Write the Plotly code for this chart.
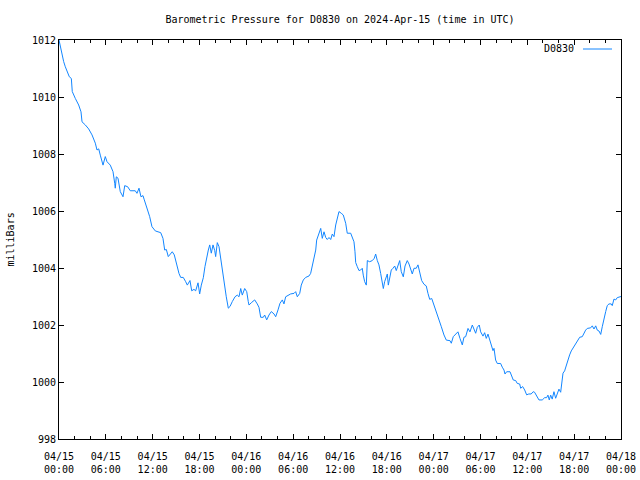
from datetime import datetime, timedelta
import plotly.graph_objects as go

# Hours since 2024-04-15 00:00 UTC
hours = [
    0.00, 0.17, 0.38, 0.60, 0.81, 1.02, 1.32, 1.58, 1.70, 2.09, 2.52, 2.82, 2.95, 3.37, 3.80,
    4.23, 4.65, 4.87, 5.09, 5.29, 5.64, 5.93, 6.15, 6.57, 6.92, 7.14, 7.21, 7.34, 7.56, 7.85,
    8.20, 8.42, 8.80, 9.13, 9.77, 9.99, 10.25, 10.50, 10.76, 10.93, 11.27, 11.62, 11.91, 12.34,
    13.03, 13.32, 13.54, 13.75, 14.00, 14.31, 14.51, 14.77, 15.03, 15.37, 15.59, 15.92, 16.23,
    16.44, 16.78, 17.00, 17.29, 17.51, 17.81, 18.02, 18.23, 18.49, 18.70, 18.87, 19.13, 19.31,
    19.51, 19.73, 19.95, 20.07, 20.28, 20.50, 20.71, 20.92, 21.14, 21.43, 21.69, 21.91, 22.20,
    22.55, 22.84, 23.06, 23.28, 23.48, 23.79, 24.05, 24.25, 24.34, 24.63, 25.07, 25.40, 25.62,
    25.84, 26.17, 26.35, 26.61, 26.90, 27.20, 27.54, 27.76, 28.06, 28.31, 28.61, 28.82, 29.04,
    29.25, 29.68, 30.11, 30.32, 30.53, 30.84, 31.04, 31.30, 31.60, 32.03, 32.24, 32.45, 32.67,
    32.89, 33.01, 33.31, 33.53, 33.73, 33.95, 34.17, 34.37, 34.59, 34.81, 35.01, 35.23, 35.45,
    35.65, 35.87, 36.16, 36.42, 36.73, 36.93, 37.37, 37.57, 37.79, 37.92, 38.01, 38.21, 38.43,
    38.65, 38.85, 38.98, 39.16, 39.37, 39.50, 39.80, 40.14, 40.39, 40.57, 40.78, 40.99, 41.21,
    41.42, 41.55, 41.72, 41.93, 42.06, 42.19, 42.36, 42.57, 42.79, 43.01, 43.21, 43.43, 43.65,
    43.85, 44.11, 44.33, 44.62, 44.84, 45.06, 45.26, 45.48, 45.77, 45.99, 46.21, 46.46, 46.76,
    47.05, 47.27, 47.49, 47.75, 47.95, 48.26, 48.46, 48.68, 48.98, 49.32, 49.62, 50.09, 50.26,
    50.51, 50.82, 51.11, 51.37, 51.67, 51.88, 52.10, 52.40, 52.65, 52.95, 53.16, 53.38, 53.59,
    53.84, 54.02, 54.32, 54.53, 54.74, 54.96, 55.18, 55.38, 55.60, 55.73, 55.94, 56.15, 56.58,
    56.79, 57.01, 57.14, 57.35, 57.78, 57.99, 58.20, 58.51, 58.71, 59.02, 59.15, 59.40, 59.66,
    59.91, 60.19, 60.49, 60.75, 60.93, 61.18, 61.49, 61.91, 62.22, 62.47, 62.64, 62.81, 62.99,
    63.19, 63.41, 63.63, 63.84, 64.05, 64.27, 64.40, 64.57, 64.78, 64.99, 65.21, 65.42, 65.63,
    65.85, 66.06, 66.27, 66.49, 66.71, 67.04, 67.26, 67.47, 67.68, 68.11, 68.32, 68.54, 68.76,
    68.96, 69.18, 69.40, 69.60, 69.82, 70.04, 70.24, 70.46, 70.75, 70.88, 71.10, 71.32, 71.52,
    71.87, 72.00,
]

pressure_mb = [
    1012.00, 1011.77, 1011.47, 1011.24, 1011.06, 1010.89, 1010.71, 1010.65, 1010.19, 1009.95,
    1009.72, 1009.48, 1009.13, 1009.02, 1008.88, 1008.67, 1008.38, 1008.14, 1008.18, 1007.96,
    1007.61, 1007.91, 1007.73, 1007.61, 1007.38, 1006.97, 1006.80, 1007.20, 1007.15, 1006.68,
    1006.50, 1006.89, 1006.85, 1006.71, 1006.71, 1006.62, 1006.80, 1006.50, 1006.54, 1006.39,
    1006.09, 1005.80, 1005.45, 1005.30,
    1005.24, 1005.04, 1004.63, 1004.65, 1004.40, 1004.49, 1004.57, 1004.46, 1004.16, 1003.81,
    1003.67, 1003.67, 1003.52, 1003.40, 1003.56, 1003.20, 1003.25, 1003.20, 1003.48, 1003.09,
    1003.40, 1003.66, 1004.05, 1004.34, 1004.63, 1004.81, 1004.52, 1004.81, 1004.61, 1004.40,
    1004.89, 1004.75, 1004.34, 1003.81, 1003.46, 1002.99, 1002.59, 1002.65, 1002.82, 1002.99,
    1003.05, 1002.99, 1003.28, 1003.05, 1003.28, 1003.17, 1002.82, 1002.70, 1002.78, 1002.88,
    1002.74, 1002.62, 1002.27, 1002.27, 1002.35, 1002.18, 1002.35, 1002.47, 1002.39, 1002.29,
    1002.53, 1002.76, 1002.88, 1002.74, 1002.99, 1003.02, 1003.09, 1003.11, 1003.17, 1002.99,
    1003.11, 1003.40, 1003.58, 1003.67, 1003.72, 1003.81, 1004.05, 1004.34, 1004.63, 1004.98,
    1005.22, 1005.39, 1005.04, 1005.27, 1005.07, 1005.00, 1005.07, 1005.00, 1005.19, 1005.10,
    1005.51, 1005.71, 1005.98, 1005.92, 1005.86, 1005.57, 1005.22, 1005.22, 1005.10, 1004.92,
    1004.57, 1004.19, 1004.05, 1003.91, 1003.93, 1003.99, 1003.75, 1003.52, 1003.40, 1004.26,
    1004.22, 1004.26, 1004.34, 1004.49, 1004.26, 1004.11, 1003.81, 1003.46, 1003.28, 1003.52,
    1003.69, 1003.79, 1003.40, 1003.60, 1003.93, 1003.99, 1004.07, 1003.91, 1004.07, 1004.26,
    1003.87, 1003.69, 1004.07, 1004.26, 1004.14, 1003.93, 1003.79, 1003.99, 1003.99, 1004.11,
    1003.81, 1003.56, 1003.43, 1003.37, 1003.11, 1002.90, 1002.93, 1002.78, 1002.55, 1002.39,
    1002.18, 1001.94, 1001.65, 1001.47, 1001.45, 1001.36, 1001.59, 1001.68, 1001.76, 1001.53,
    1001.30, 1001.57, 1001.59, 1001.88, 1001.76, 1002.00, 1001.88, 1001.71, 1001.92, 1002.00,
    1001.76, 1001.61, 1001.73, 1001.53, 1001.68, 1001.47, 1001.30, 1001.10, 1001.18, 1000.77,
    1000.65, 1000.65, 1000.52, 1000.42, 1000.28, 1000.36, 1000.36, 1000.19, 1000.07, 1000.05,
    999.95, 999.93, 999.78, 999.84, 999.72, 999.55, 999.58, 999.58, 999.66, 999.64, 999.52,
    999.37, 999.37, 999.45, 999.45, 999.54, 999.37, 999.54, 999.40, 999.66, 999.43, 999.60,
    999.75, 999.64, 1000.01, 1000.31, 1000.39, 1000.60, 1000.77, 1000.95, 1001.09, 1001.18,
    1001.30, 1001.36, 1001.47, 1001.57, 1001.59, 1001.71, 1001.82, 1001.88, 1001.90, 1001.97,
    1001.86, 1001.97, 1001.82, 1001.79, 1001.67, 1001.94, 1002.24, 1002.47, 1002.68, 1002.74,
    1002.74, 1002.68, 1002.91, 1002.88, 1002.96, 1002.99, 1003.00,
]

tick_hours = [0, 6, 12, 18, 24, 30, 36, 42, 48, 54, 60, 66, 72]
tick_labels = [
    "04/15<br>00:00", "04/15<br>06:00", "04/15<br>12:00", "04/15<br>18:00",
    "04/16<br>00:00", "04/16<br>06:00", "04/16<br>12:00", "04/16<br>18:00",
    "04/17<br>00:00", "04/17<br>06:00", "04/17<br>12:00", "04/17<br>18:00",
    "04/18<br>00:00",
]
y_ticks = [998, 1000, 1002, 1004, 1006, 1008, 1010, 1012]
series_name = "D0830"
title_text = "Barometric Pressure for D0830 on 2024-Apr-15 (time in UTC)"

start = datetime(2024, 4, 15)
times = [start + timedelta(hours=h) for h in hours]
tick_times = [start + timedelta(hours=h) for h in tick_hours]

FONT = "DejaVu Sans Mono"
LINE_COLOR = "#1286ff"

fig = go.Figure()
fig.add_trace(go.Scatter(
    x=times, y=pressure_mb, mode="lines", name=series_name,
    line=dict(color=LINE_COLOR, width=1), showlegend=False,
))

W, H = 640, 480
L, R, T, B = 59, 19, 40, 41
pw = W - L - R
ph = H - T - B

fig.update_layout(
    width=W, height=H,
    margin=dict(l=L, r=R, t=T, b=B, pad=0, autoexpand=False),
    paper_bgcolor="white", plot_bgcolor="white",
    font=dict(family=FONT, size=10, color="black"),
    title=dict(text=title_text, x=0.5, xref="paper", xanchor="center",
               y=1 - 19 / H, yref="container", yanchor="middle",
               font=dict(family=FONT, size=10, color="black")),
    xaxis=dict(
        type="date", range=[start, start + timedelta(hours=72)],
        tickmode="array", tickvals=tick_times, ticktext=tick_labels,
        ticks="inside", ticklen=5, tickcolor="black", tickwidth=1,
        showline=True, linecolor="black", linewidth=1, mirror="ticks",
        showgrid=False, zeroline=False, automargin=False,
        ticklabelstandoff=8,
        minor=dict(tickmode="linear", tick0=start, dtick=2 * 3600 * 1000,
                   ticks="inside", ticklen=3, tickcolor="black", tickwidth=1,
                   showgrid=False),
        tickfont=dict(family=FONT, size=10),
    ),
    yaxis=dict(
        range=[998, 1012], tickmode="array", tickvals=y_ticks,
        ticktext=[str(v) for v in y_ticks],
        ticks="inside", ticklen=5, tickcolor="black", tickwidth=1,
        showline=True, linecolor="black", linewidth=1, mirror="ticks",
        showgrid=False, zeroline=False, automargin=False,
        tickfont=dict(family=FONT, size=10),
    ),
    annotations=[
        dict(text="milliBars", textangle=-90, xref="paper", yref="paper",
             x=(10 - L) / pw, y=0.5, xanchor="center", yanchor="middle",
             showarrow=False, font=dict(family=FONT, size=10)),
        dict(text=series_name, xref="paper", yref="paper",
             x=(576 - L) / pw, y=1 - (49 - T) / ph, xanchor="right", yanchor="middle",
             showarrow=False, font=dict(family=FONT, size=10)),
    ],
    shapes=[
        dict(type="line", xref="paper", yref="paper",
             x0=(583 - L) / pw, x1=(612 - L) / pw,
             y0=1 - (49 - T) / ph, y1=1 - (49 - T) / ph,
             line=dict(color=LINE_COLOR, width=1)),
    ],
)

fig.write_html("out.html")
